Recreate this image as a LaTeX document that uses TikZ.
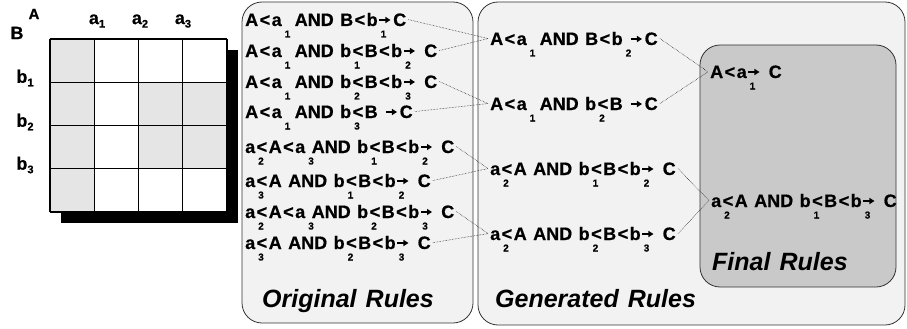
\documentclass[tikz,border=0pt]{standalone}
\usepackage{fontspec}
\setmainfont{Liberation Sans}[WordSpace=1.3, BoldFeatures={FakeBold=0.6}]
\usetikzlibrary{arrows.meta}
% pedice spostato in basso, senza larghezza
\newcommand{\pedice}[1]{\rlap{\smash{\kern3pt\raisebox{-11.5pt}{\fontsize{10}{10}\selectfont #1}}}}
\newcommand{\freccia}{\kern1pt\tikz[x=1pt,y=1pt,baseline=-6pt]\draw[line width=1.5pt,-{Triangle[length=5pt,width=6pt]}] (0,0) -- (11,0);\kern2pt}
\newcommand{\minore}{\kern1.5pt<\kern1.5pt}
\newcommand{\indice}[1]{\raisebox{-3.5pt}{\fontsize{11}{11}\selectfont #1}}

\begin{document}
\begin{tikzpicture}[x=1pt,y=-1pt,
  regola/.style={anchor=base west, inner sep=2pt, font=\fontsize{18}{21}\selectfont\bfseries},
  titolo/.style={anchor=base west, inner sep=0pt, font=\fontsize{25}{30}\selectfont\bfseries\itshape},
  riquadro/.style={draw=black!80, line width=0.8pt, rounded corners=20pt},
  legame/.style={densely dotted, line width=0.5pt},
  etich/.style={inner sep=0pt, font=\fontsize{18}{21}\selectfont\bfseries},
  griglia/.style={line width=1.2pt}]
\useasboundingbox (0,0) rectangle (907,329);

% Matrice con ombra
\fill[black] (61,50) rectangle (238,223);
\fill[white] (50,39) rectangle (227,212);
\foreach \c/\r in {0/0,0/1,0/2,0/3,2/1,3/1,2/2,3/2}
  \fill[black!10] ({50+44.25*\c},{39+43.25*\r}) rectangle ++(44.25,43.25);
\foreach \i in {0,...,4} {
  \draw[griglia] ({50+44.25*\i},39) -- ({50+44.25*\i},212);
  \draw[griglia] (50,{39+43.25*\i}) -- (227,{39+43.25*\i});
}
\node[etich, font=\fontsize{15}{18}\selectfont\bfseries] (asseA) at (34,14) {A};
\node[etich] (asseB) at (17,33) {B};
\node[etich] (a1) at (97,21) {a\indice{1}};
\node[etich] (a2) at (140,21) {a\indice{2}};
\node[etich] (a3) at (183,21) {a\indice{3}};
\node[etich] (b1) at (25,78) {b\indice{1}};
\node[etich] (b2) at (25,122) {b\indice{2}};
\node[etich] (b3) at (25,165) {b\indice{3}};

% Riquadri
\draw[riquadro, fill=black!5] (242,2) rectangle (473,323);
\draw[riquadro, fill=black!5] (478,2) rectangle (905,325);
\draw[riquadro, fill=black!21] (700,45) rectangle (896,287);

% Regole originali
\node[regola] (o1) at (243,26) {A\minore a\pedice{1}\ \ AND B\minore b\pedice{1}\freccia C};
\node[regola] (o2) at (243,57) {A\minore a\pedice{1}\ \ AND b\pedice{1}\minore B\minore b\pedice{2}\freccia\ C};
\node[regola] (o3) at (243,88) {A\minore a\pedice{1}\ \ AND b\pedice{2}\minore B\minore b\pedice{3}\freccia\ C};
\node[regola] (o4) at (243,118) {A\minore a\pedice{1}\ \ AND b\pedice{3}\minore B \freccia C};
\node[regola] (o5) at (243,153) {a\pedice{2}\minore A\minore a\pedice{3}\ AND b\pedice{1}\minore B\minore b\pedice{2}\freccia\ C};
\node[regola] (o6) at (243,187) {a\pedice{3}\minore A AND b\pedice{1}\minore B\minore b\pedice{2}\freccia\ C};
\node[regola] (o7) at (243,218) {a\pedice{2}\minore A\minore a\pedice{3}\ AND b\pedice{2}\minore B\minore b\pedice{3}\freccia\ C};
\node[regola] (o8) at (243,249) {a\pedice{3}\minore A AND b\pedice{2}\minore B\minore b\pedice{3}\freccia\ C};
\node[titolo] (torig) at (262,307) {Original Rules};

% Regole generate
\node[regola] (g1) at (488,45) {A\minore a\pedice{1}\ \ AND B\minore b\pedice{2}\ \freccia C};
\node[regola] (g2) at (488,110) {A\minore a\pedice{1}\ \ AND b\pedice{2}\minore B \freccia C};
\node[regola] (g3) at (488,175) {a\pedice{2}\minore A AND b\pedice{1}\minore B\minore b\pedice{2}\freccia\ C};
\node[regola] (g4) at (488,240) {a\pedice{2}\minore A AND b\pedice{2}\minore B\minore b\pedice{3}\freccia\ C};
\node[titolo] (tgen) at (495,307) {Generated Rules};

% Regole finali
\node[regola] (f1) at (708,78) {A\minore a\pedice{1}\freccia\ C};
\node[regola] (f2) at (709,207) {a\pedice{2}\minore A AND b\pedice{1}\minore B\minore b\pedice{3}\freccia\ C};
\node[titolo] (tfin) at (712,270) {Final Rules};

% Collegamenti punteggiati
\draw[legame] (o1.east) -- (g1.west);
\draw[legame] (o2.east) -- (g1.west);
\draw[legame] (o3.east) -- (g2.west);
\draw[legame] (o4.east) -- (g2.west);
\draw[legame] (o5.east) -- (g3.west);
\draw[legame] (o6.east) -- (g3.west);
\draw[legame] (o7.east) -- (g4.west);
\draw[legame] (o8.east) -- (g4.west);
\draw[legame] (g1.east) -- (f1.west);
\draw[legame] (g2.east) -- (f1.west);
\draw[legame] (g3.east) -- (f2.west);
\draw[legame] (g4.east) -- (f2.west);
\end{tikzpicture}
\end{document}
